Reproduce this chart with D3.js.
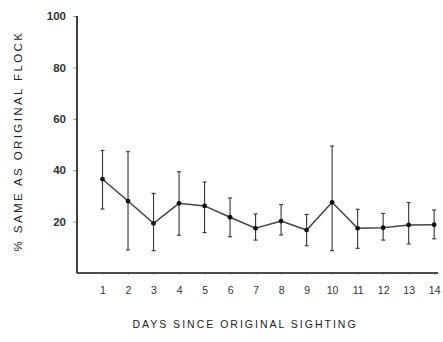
<!DOCTYPE html>
<html>
<head>
<meta charset="utf-8">
<script src="https://cdn.jsdelivr.net/npm/d3@7"></script>
<style>
  body { margin: 0; background: #fff; }
  svg { display: block; font-family: "Liberation Sans", Arial, sans-serif; }
</style>
</head>
<body>
<div id="chart"></div>
<script>
const days = [1, 2, 3, 4, 5, 6, 7, 8, 9, 10, 11, 12, 13, 14];
const pct = [36.5, 28, 19.3, 27.1, 26.1, 21.7, 17.4, 20.2, 16.7, 27.5, 17.4, 17.6, 18.7, 18.8];
const upper = [47.7, 47.2, 31, 39.4, 35.4, 29.2, 23, 26.6, 22.8, 49.4, 24.8, 23.2, 27.4, 24.5];
const lower = [24.9, 9, 8.7, 14.7, 15.7, 14.1, 12.8, 14.8, 10.6, 8.7, 9.6, 12.8, 11.3, 13.3];
const yTicks = [20, 40, 60, 80, 100];

const breedte = 443, hoogte = 342;
const punten = days.map((d, i) => ({ dag: d, v: pct[i], hi: upper[i], lo: lower[i] }));

const svg = d3.select("#chart").append("svg")
    .attr("width", breedte)
    .attr("height", hoogte);

const x = d3.scaleLinear().domain([0, 14.15]).range([77, 438]);
const y = d3.scaleLinear().domain([0, 100]).range([273, 16]);

// y axis
const yAs = svg.append("g")
    .attr("transform", `translate(${x(0)},0)`)
    .call(d3.axisLeft(y).tickValues(yTicks).tickSize(4).tickPadding(7));
yAs.select(".domain").remove();
yAs.selectAll(".tick line").attr("stroke", "#999");
yAs.selectAll(".tick text").attr("fill", "#333").style("font-size", "11.5px").style("font-weight", "bold");

svg.append("line")
    .attr("x1", x(0)).attr("x2", x(0))
    .attr("y1", y(100)).attr("y2", y(0))
    .attr("stroke", "#111").attr("stroke-width", 1.6);

// x axis
const xAs = svg.append("g")
    .attr("transform", `translate(0,${y(0)})`)
    .call(d3.axisBottom(x).tickValues(days).tickSize(2).tickPadding(12));
xAs.select(".domain").remove();
xAs.selectAll(".tick line").attr("stroke", "#bbb");
xAs.selectAll(".tick text").attr("fill", "#333").style("font-size", "10.5px");

svg.append("line")
    .attr("x1", x(0)).attr("x2", x(14.15))
    .attr("y1", y(0)).attr("y2", y(0))
    .attr("stroke", "#111").attr("stroke-width", 1.6);

// error bars
const fout = svg.append("g").attr("stroke", "#333").attr("stroke-width", 1.1);
fout.selectAll("line.bar").data(punten).enter().append("line")
    .attr("class", "bar")
    .attr("x1", d => x(d.dag)).attr("x2", d => x(d.dag))
    .attr("y1", d => y(d.hi)).attr("y2", d => y(d.lo));
fout.selectAll("line.top").data(punten).enter().append("line")
    .attr("class", "top")
    .attr("x1", d => x(d.dag) - 2).attr("x2", d => x(d.dag) + 2)
    .attr("y1", d => y(d.hi)).attr("y2", d => y(d.hi));
fout.selectAll("line.bot").data(punten).enter().append("line")
    .attr("class", "bot")
    .attr("x1", d => x(d.dag) - 2).attr("x2", d => x(d.dag) + 2)
    .attr("y1", d => y(d.lo)).attr("y2", d => y(d.lo));

// line
svg.append("path")
    .datum(punten)
    .attr("fill", "none")
    .attr("stroke", "#444")
    .attr("stroke-width", 1.5)
    .attr("d", d3.line().x(d => x(d.dag)).y(d => y(d.v)));

svg.selectAll("circle").data(punten).enter().append("circle")
    .attr("cx", d => x(d.dag)).attr("cy", d => y(d.v))
    .attr("r", 2.4).attr("fill", "#111");

// titles
svg.append("text")
    .attr("x", 245).attr("y", 328)
    .attr("text-anchor", "middle")
    .attr("fill", "#222")
    .style("font-size", "10.5px")
    .style("letter-spacing", "2px")
    .text("DAYS SINCE ORIGINAL SIGHTING");

svg.append("text")
    .attr("transform", "translate(22,141) rotate(-90)")
    .attr("text-anchor", "middle")
    .attr("fill", "#222")
    .style("font-size", "11.5px")
    .style("letter-spacing", "2.4px")
    .text("% SAME AS ORIGINAL FLOCK");
</script>
</body>
</html>
